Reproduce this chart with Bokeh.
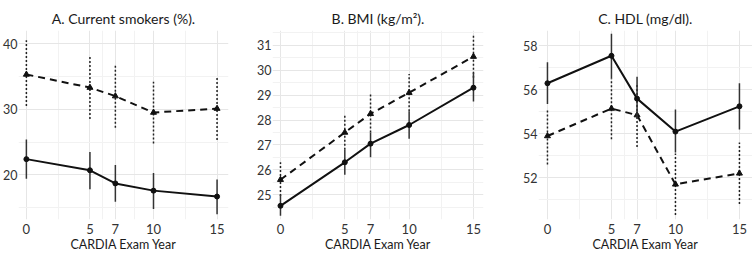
from bokeh.plotting import figure
from bokeh.layouts import row
from bokeh.models import FixedTicker, Range1d
from bokeh.embed import file_html
from bokeh.resources import INLINE

years = [0, 5, 7, 10, 15]
x_minor = [2.5, 6, 8.5, 12.5]
x_title = "CARDIA Exam Year"

# A. Current smokers (%)
a_solid = [22.4, 20.7, 18.7, 17.6, 16.7]
a_solid_lo = [19.4, 17.8, 15.9, 14.8, 14.0]
a_solid_hi = [25.4, 23.5, 21.5, 20.3, 19.3]
a_dash = [35.3, 33.3, 32.0, 29.5, 30.1]
a_dash_lo = [30.5, 28.5, 27.2, 24.8, 25.3]
a_dash_hi = [40.5, 38.1, 36.7, 34.2, 34.8]

# B. BMI (kg/m2)
b_solid = [24.55, 26.3, 27.05, 27.8, 29.3]
b_solid_lo = [24.15, 25.8, 26.5, 27.25, 28.75]
b_solid_hi = [25.0, 26.8, 27.5, 28.35, 29.9]
b_dash = [25.6, 27.5, 28.25, 29.1, 30.55]
b_dash_lo = [24.95, 26.8, 27.5, 28.35, 29.7]
b_dash_hi = [26.3, 28.25, 29.05, 29.85, 31.4]

# C. HDL (mg/dl)
c_solid = [56.3, 57.55, 55.6, 54.1, 55.25]
c_solid_lo = [55.35, 56.5, 54.7, 53.15, 54.2]
c_solid_hi = [57.25, 58.55, 56.6, 55.1, 56.3]
c_dash = [53.9, 55.15, 54.85, 51.7, 52.2]
c_dash_lo = [52.6, 53.75, 53.4, 50.3, 50.8]
c_dash_hi = [55.1, 56.5, 56.3, 53.1, 53.6]

FONT = "Lato"


def panel(title, width, left, right, xr, yr, yticks, yminor,
          s, slo, shi, d, dlo, dhi):
    p = figure(width=width, height=254, output_backend="svg", toolbar_location=None,
               x_range=Range1d(*xr), y_range=Range1d(*yr),
               min_border_left=left, min_border_right=right,
               min_border_top=30, min_border_bottom=0, title=title)
    p.outline_line_color = None
    p.background_fill_color = "white"
    p.border_fill_color = "white"
    p.title.align = "center"
    p.title.vertical_align = "top"
    p.title.text_font = FONT
    p.title.text_font_size = "14px"
    p.title.text_font_style = "normal"
    p.title.text_color = "#1a1a1a"
    p.title.offset = 0
    p.title.standoff = 4

    p.xaxis.ticker = FixedTicker(ticks=years, minor_ticks=x_minor)
    p.yaxis.ticker = FixedTicker(ticks=yticks, minor_ticks=yminor)
    for ax in (p.xaxis, p.yaxis):
        ax.axis_line_color = None
        ax.major_tick_line_color = None
        ax.minor_tick_line_color = None
        ax.major_tick_out = 0
        ax.major_tick_in = 0
        ax.minor_tick_out = 0
        ax.minor_tick_in = 0
        ax.major_label_text_font = FONT
        ax.major_label_text_color = "#333333"
    p.xaxis.major_label_text_font_size = "13px"
    p.yaxis.major_label_text_font_size = "12.5px"
    p.xaxis.major_label_standoff = 4
    p.yaxis.major_label_standoff = 1
    p.xaxis.axis_label = x_title
    p.xaxis.axis_label_text_font = FONT
    p.xaxis.axis_label_text_font_size = "12.5px"
    p.xaxis.axis_label_text_font_style = "normal"
    p.xaxis.axis_label_text_color = "#1a1a1a"
    p.xaxis.axis_label_standoff = 0

    for g in (p.xgrid, p.ygrid):
        g.grid_line_color = "#e6e6e6"
        g.grid_line_width = 1
        g.minor_grid_line_color = "#f2f2f2"
        g.minor_grid_line_width = 1

    # dashed series error bars (dotted)
    p.segment(x0=years, y0=dlo, x1=years, y1=dhi, line_color="#222222",
              line_width=1.5, line_dash="2 2")
    p.line(years, d, line_color="#111111", line_width=2, line_dash="7 5")
    p.scatter(years, d, marker="triangle", size=6, color="#111111")

    # solid series
    p.segment(x0=years, y0=slo, x1=years, y1=shi, line_color="#333333",
              line_width=1.5)
    p.line(years, s, line_color="#111111", line_width=2)
    p.scatter(years, s, marker="circle", size=5, color="#111111")
    return p


pa = panel("A. Current smokers (%).", 250, 15, 22, (-0.62, 15.9), (13.2, 42.0),
           [20, 30, 40], [15, 25, 35],
           a_solid, a_solid_lo, a_solid_hi, a_dash, a_dash_lo, a_dash_hi)
pb = panel("B. BMI (kg/m²).", 250, 22, 17, (-0.62, 15.78), (24.0, 31.6),
           [25, 26, 27, 28, 29, 30, 31], [24.5, 25.5, 26.5, 27.5, 28.5, 29.5, 30.5, 31.5],
           b_solid, b_solid_lo, b_solid_hi, b_dash, b_dash_lo, b_dash_hi)
pc = panel("C. HDL (mg/dl).", 252, 38, 0, (-0.70, 16.02), (50.1, 58.7),
           [52, 54, 56, 58], [51, 53, 55, 57],
           c_solid, c_solid_lo, c_solid_hi, c_dash, c_dash_lo, c_dash_hi)

layout = row(pa, pb, pc, spacing=0)
open("out.html", "w").write(file_html(layout, INLINE))
